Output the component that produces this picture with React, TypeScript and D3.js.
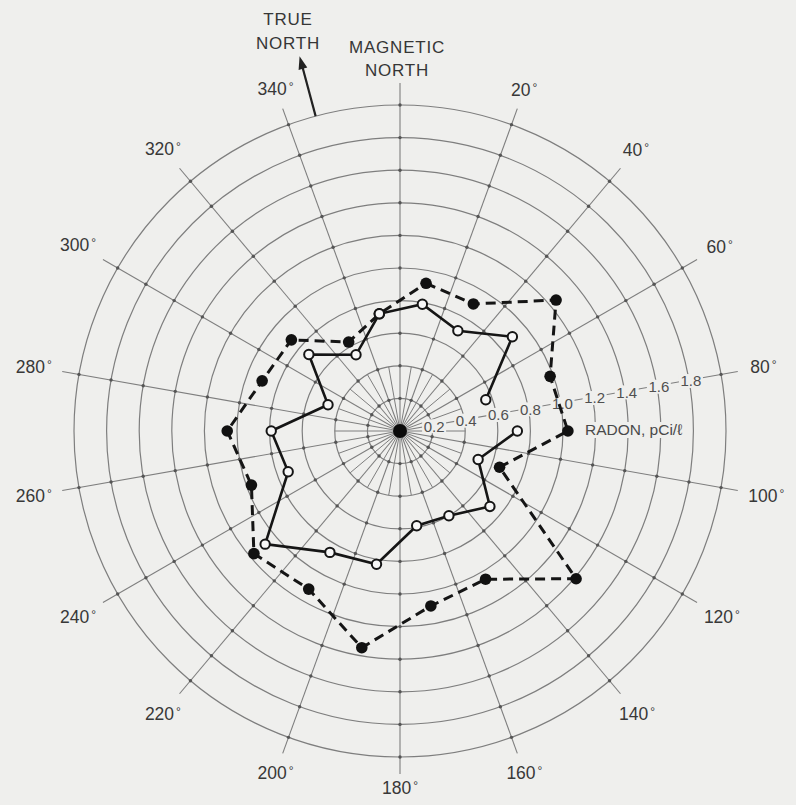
import React from 'react';
import * as d3 from 'd3';

const ANGLES = [10, 30, 50, 70, 90, 110, 130, 150, 170, 190, 210, 230, 250, 270, 290, 310, 330, 350];
const FILLED_SERIES = [0.92, 0.90, 1.25, 0.98, 1.03, 0.65, 1.41, 1.05, 1.09, 1.35, 1.12, 1.17, 0.97, 1.06, 0.90, 0.87, 0.63, 0.73];
const OPEN_SERIES = [0.79, 0.71, 0.90, 0.56, 0.72, 0.51, 0.72, 0.60, 0.59, 0.83, 0.86, 1.08, 0.73, 0.79, 0.47, 0.73, 0.54, 0.73];
const RING_VALUES = [0.2, 0.4, 0.6, 0.8, 1.0, 1.2, 1.4, 1.6, 1.8, 2.0];
const SCALE_LABELS = ['0.2', '0.4', '0.6', '0.8', '1.0', '1.2', '1.4', '1.6', '1.8'];
const DIRECTION_LABELS = [20, 40, 60, 80, 100, 120, 140, 160, 180, 200, 220, 240, 260, 280, 300, 320, 340];
const MAJOR_SPOKES = d3.range(0, 360, 20);
const MINOR_SPOKES = d3.range(10, 360, 20);
const TRUE_NORTH = 345;
const SCALE_ANGLE = 80;

const W = 796, H = 805, CX = 400, CY = 431, RMAX = 326;
const BG = '#efefed';
const GRID = '#7e7e7e';
const FONT = "'Liberation Sans', Arial, Helvetica, sans-serif";

const rad = (deg: number) => (deg * Math.PI) / 180;
const polar = (deg: number, r: number): [number, number] => [CX + r * Math.sin(rad(deg)), CY - r * Math.cos(rad(deg))];

export default function App() {
  const r = d3.scaleLinear().domain([0, 2]).range([0, RMAX]);

  const filledData = ANGLES.map((a, i) => ({ a, v: FILLED_SERIES[i] }));
  const openData = ANGLES.map((a, i) => ({ a, v: OPEN_SERIES[i] }));
  // solid line has a gap between 70° and 90°: start at 90°, end at 70°
  const startIdx = ANGLES.indexOf(90);
  const openOrdered = [...openData.slice(startIdx), ...openData.slice(0, startIdx)];

  const dashedPath = d3.lineRadial<{ a: number; v: number }>()
    .angle(d => rad(d.a))
    .radius(d => r(d.v))
    .curve(d3.curveLinearClosed)(filledData) || '';
  const solidPath = d3.lineRadial<{ a: number; v: number }>()
    .angle(d => rad(d.a))
    .radius(d => r(d.v))
    .curve(d3.curveLinear)(openOrdered) || '';

  const tn0 = polar(TRUE_NORTH, RMAX);
  const tn1 = polar(TRUE_NORTH, 388);
  const tnDir = [Math.sin(rad(TRUE_NORTH)), -Math.cos(rad(TRUE_NORTH))];
  const tnPerp = [-tnDir[1], tnDir[0]];
  const head = [
    [tn1[0], tn1[1]],
    [tn1[0] - tnDir[0] * 13 + tnPerp[0] * 4.5, tn1[1] - tnDir[1] * 13 + tnPerp[1] * 4.5],
    [tn1[0] - tnDir[0] * 13 - tnPerp[0] * 4.5, tn1[1] - tnDir[1] * 13 - tnPerp[1] * 4.5],
  ];

  return (
    <svg width={W} height={H} style={{ position: 'absolute', left: 0, top: 0 }} fontFamily={FONT}>
      <rect x={0} y={0} width={W} height={H} fill={BG} />

      {/* rings */}
      {RING_VALUES.map(v => (
        <circle key={'ring' + v} cx={CX} cy={CY} r={r(v)} fill="none" stroke={GRID} strokeWidth={1.2} />
      ))}

      {/* minor spokes near center */}
      {MINOR_SPOKES.map(a => {
        const p = polar(a, r(0.4));
        return <line key={'ms' + a} x1={CX} y1={CY} x2={p[0]} y2={p[1]} stroke={GRID} strokeWidth={1} />;
      })}

      {/* major spokes with leaders */}
      {MAJOR_SPOKES.map(a => {
        const p = polar(a, a === 0 ? 348 : 343);
        return <line key={'sp' + a} x1={CX} y1={CY} x2={p[0]} y2={p[1]} stroke={GRID} strokeWidth={1.1} />;
      })}

      {/* intersection dots */}
      {MAJOR_SPOKES.map(a =>
        RING_VALUES.map(v => {
          const p = polar(a, r(v));
          return <circle key={'d' + a + '-' + v} cx={p[0]} cy={p[1]} r={1.7} fill="#555" />;
        })
      )}

      {/* scale labels along 80° spoke */}
      {SCALE_LABELS.map(t => {
        const p = polar(SCALE_ANGLE, r(+t));
        const x = p[0] + 2, y = p[1] + 1;
        return (
          <g key={'sl' + t}>
            <rect x={x - 12} y={y - 7} width={24} height={14} fill={BG} />
            <text x={x} y={y} dy="0.35em" textAnchor="middle" fontSize={15} fill="#505050">{t}</text>
          </g>
        );
      })}

      {/* RADON label */}
      <rect x={584} y={422} width={106} height={16} fill={BG} />
      <text x={585} y={430} dy="0.35em" fontSize={15.5} fill="#4a4a4a">RADON, pCi/ℓ</text>

      {/* direction labels */}
      {DIRECTION_LABELS.map(a => {
        const w = a >= 100 ? 42 : 36;
        const s = Math.abs(Math.sin(rad(a))), c = Math.abs(Math.cos(rad(a)));
        const rc = 350 + s * w / 2 + c * 7;
        const p = polar(a, rc);
        return (
          <text key={'dl' + a} x={p[0]} y={p[1]} dy="0.35em" textAnchor="middle" fontSize={17.5} fill="#383838">
            {a}
            <tspan dx={2} dy={-4} fontSize={12}>°</tspan>
          </text>
        );
      })}

      {/* north labels */}
      <text x={288} y={25} textAnchor="middle" fontSize={17} letterSpacing={0.8} fill="#363636">TRUE</text>
      <text x={288} y={49} textAnchor="middle" fontSize={17} letterSpacing={0.8} fill="#363636">NORTH</text>
      <text x={397} y={53} textAnchor="middle" fontSize={17} letterSpacing={0.8} fill="#363636">MAGNETIC</text>
      <text x={397} y={76} textAnchor="middle" fontSize={17} letterSpacing={0.8} fill="#363636">NORTH</text>

      {/* true north arrow */}
      <line x1={tn0[0]} y1={tn0[1]} x2={tn1[0] - tnDir[0] * 8} y2={tn1[1] - tnDir[1] * 8} stroke="#222" strokeWidth={2.2} />
      <polygon points={head.map(p => p.join(',')).join(' ')} fill="#222" />

      {/* data lines */}
      <g transform={`translate(${CX},${CY})`}>
        <path d={dashedPath} fill="none" stroke="#151515" strokeWidth={3} strokeDasharray="10,6" />
        <path d={solidPath} fill="none" stroke="#151515" strokeWidth={2.6} />
      </g>

      {/* markers */}
      {filledData.map(d => {
        const p = polar(d.a, r(d.v));
        return <circle key={'f' + d.a} cx={p[0]} cy={p[1]} r={5.8} fill="#111" />;
      })}
      {openData.map(d => {
        const p = polar(d.a, r(d.v));
        return <circle key={'o' + d.a} cx={p[0]} cy={p[1]} r={4.7} fill="#f7f7f7" stroke="#151515" strokeWidth={2} />;
      })}

      {/* center dot */}
      <circle cx={CX} cy={CY} r={7} fill="#0a0a0a" />
    </svg>
  );
}
